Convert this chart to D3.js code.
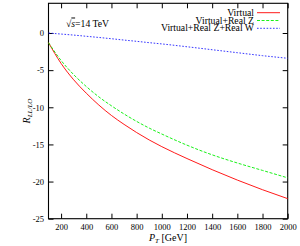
<html>
<script src='https://d3js.org/d3.v7.min.js'></script>
<style>
body {margin:0; background:white;}
text {font-family:"Liberation Serif", serif; fill:black;}
</style>
<body>
<svg id="chart" width=300 height=246></svg>
<script>
// data
var ptValues = [100,200,300,400,500,600,700,800,900,1000,1200,1400,1600,1800,2000];
var virtualVals = [-1.3,-4.1,-6.3,-8.1,-9.7,-11.1,-12.3,-13.4,-14.4,-15.3,-16.9,-18.4,-19.8,-21.1,-22.3];
var virtualZVals = [-1.3,-3.7,-5.6,-7.2,-8.6,-9.8,-10.9,-11.9,-12.8,-13.6,-15.1,-16.4,-17.5,-18.5,-19.5];
var virtualZWVals = [0,-0.14,-0.28,-0.44,-0.6,-0.77,-0.95,-1.12,-1.3,-1.47,-1.85,-2.25,-2.65,-3.05,-3.4];
var xTicks = [200,400,600,800,1000,1200,1400,1600,1800,2000];
var yTicks = [-25,-20,-15,-10,-5,0];
var seriesNames = ["Virtual","Virtual+Real Z","Virtual+Real Z+Real W"];

var series = [
  {name: seriesNames[0], vals: virtualVals, color: "#ff0000", dash: null},
  {name: seriesNames[1], vals: virtualZVals, color: "#00ee00", dash: "3,1.6"},
  {name: seriesNames[2], vals: virtualZWVals, color: "#2020ff", dash: "1.6,1.6"}
];

var pLeft = 48.5, pRight = 287.7, pTop = 3.3, pBottom = 218.7;
var svg = d3.select("#chart");

var xscale = d3.scaleLinear().domain([100,2000]).range([pLeft,pRight]);
var yscale = d3.scaleLinear().domain([-25,4]).range([pBottom,pTop]);

// axes, ticks pointing inward
svg.append("g").attr("transform","translate(0,"+pBottom+")")
  .call(d3.axisBottom(xscale).tickValues(xTicks).tickSizeInner(-5).tickSizeOuter(0).tickPadding(5.5).tickFormat(d3.format("d")))
  .call(g => g.select(".domain").remove());
svg.append("g").attr("transform","translate(0,"+pTop+")")
  .call(d3.axisTop(xscale).tickValues(xTicks).tickSizeInner(-5).tickSizeOuter(0).tickFormat(""))
  .call(g => g.select(".domain").remove());
svg.append("g").attr("transform","translate("+pLeft+",0)")
  .call(d3.axisLeft(yscale).tickValues(yTicks).tickSizeInner(-5).tickSizeOuter(0).tickPadding(4.5).tickFormat(d => String(d)))
  .call(g => g.select(".domain").remove());
svg.append("g").attr("transform","translate("+pRight+",0)")
  .call(d3.axisRight(yscale).tickValues(yTicks).tickSizeInner(-5).tickSizeOuter(0).tickFormat(""))
  .call(g => g.select(".domain").remove());

svg.selectAll(".tick text").style("font-size","8.5px").style("font-family","Liberation Serif, serif");
svg.selectAll(".tick line").attr("stroke","black");

svg.append("rect").attr("x",pLeft).attr("y",pTop).attr("width",pRight-pLeft).attr("height",pBottom-pTop)
  .attr("fill","none").attr("stroke","black").attr("stroke-width",1.1);

// curves
var line = d3.line().x((d,i) => xscale(ptValues[i])).y(d => yscale(d)).curve(d3.curveMonotoneX);
series.forEach(function(s){
  svg.append("path").datum(s.vals).attr("d",line)
    .attr("fill","none").attr("stroke",s.color).attr("stroke-width",0.9)
    .attr("stroke-dasharray",s.dash);
});

// legend
series.forEach(function(s,i){
  var y = 12.7 + i*7.8;
  svg.append("text").attr("x",254).attr("y",y+3).attr("text-anchor","end")
    .style("font-size","9.7px").text(s.name);
  svg.append("line").attr("x1",257).attr("x2",280).attr("y1",y).attr("y2",y)
    .attr("stroke",s.color).attr("stroke-width",0.9).attr("stroke-dasharray",s.dash);
});

// sqrt(s) label
var sq = svg.append("text").attr("x",66).attr("y",26.5).style("font-size","9.7px");
sq.append("tspan").text("\u221A");
sq.append("tspan").style("font-style","italic").style("text-decoration","overline").text("s");
sq.append("tspan").text("=14 TeV");

// axis titles
var xt = svg.append("text").attr("x",168).attr("y",241).attr("text-anchor","middle").style("font-size","10px");
xt.append("tspan").style("font-style","italic").text("P");
xt.append("tspan").style("font-style","italic").style("font-size","7px").attr("dy",1.8).text("T");
xt.append("tspan").attr("dy",-1.8).text(" [GeV]");

var yt = svg.append("text").attr("transform","translate(30,111) rotate(-90)").attr("text-anchor","middle").style("font-size","10px");
yt.append("tspan").style("font-style","italic").text("R");
yt.append("tspan").style("font-style","italic").style("font-size","7px").attr("dy",1.8).text("LL/LO");
</script>
</body>
</html>
